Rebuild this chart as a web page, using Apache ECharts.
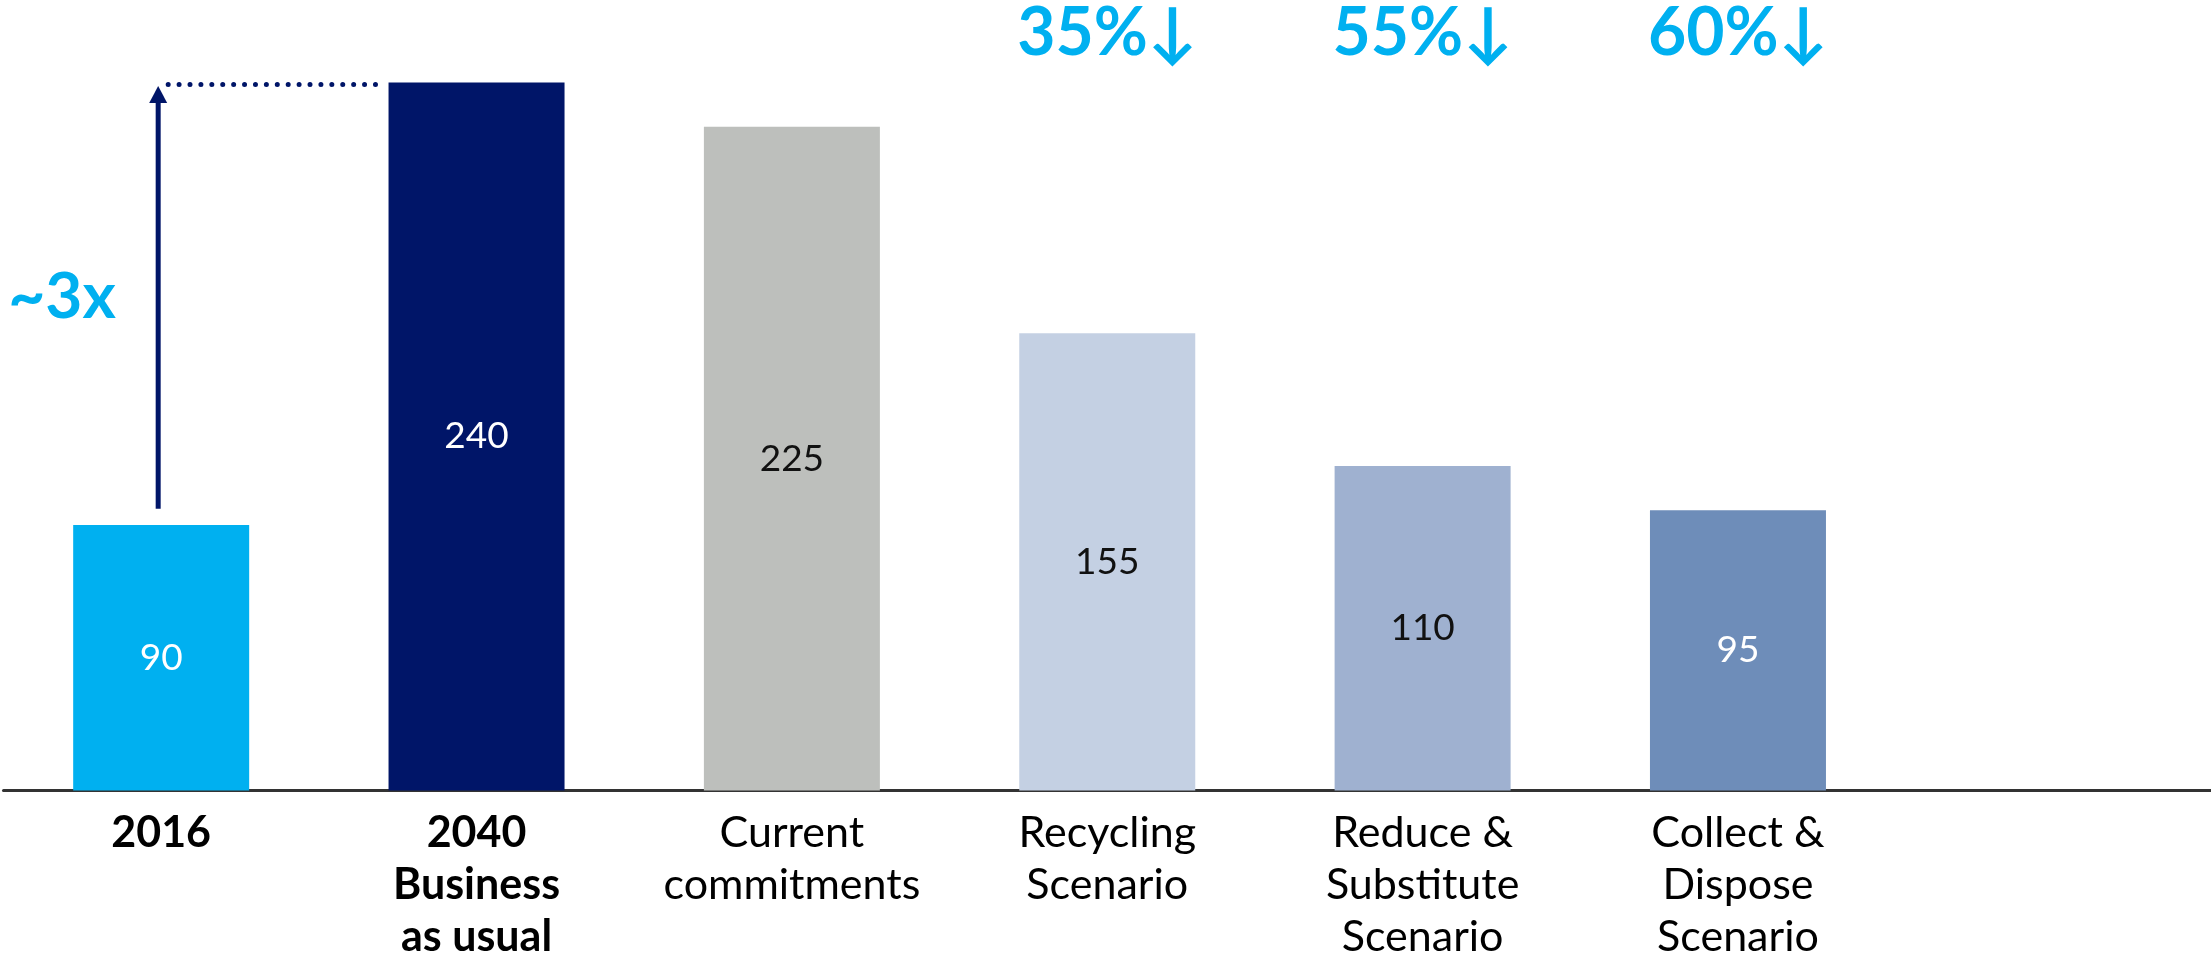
<!DOCTYPE html>
<html>
<head>
<meta charset="utf-8">
<script src="https://cdn.jsdelivr.net/npm/echarts@6/dist/echarts.min.js"></script>
<style>
  html, body { margin: 0; padding: 0; background: #fff; }
  #chart { width: 2211px; height: 956px; }
</style>
</head>
<body>
<div id="chart"></div>
<script>
// categories (last one is an empty slot, the axis runs on past the bars)
const categories = [
  '2016',
  '2040\nBusiness\nas usual',
  'Current\ncommitments',
  'Recycling\nScenario',
  'Reduce &\nSubstitute\nScenario',
  'Collect &\nDispose\nScenario',
  ''
]
const values = [90, 240, 225, 155, 110, 95]
const reductions = ['', '', '', '35%↓', '55%↓', '60%↓']
const growthLabel = '~3x'

const barColors = ['#00B0F0', '#001568', '#BDBFBC', '#C4D0E3', '#9FB1D0', '#6E8DB9']
const labelColors = ['#fff', '#fff', '#111', '#111', '#111', '#fff']
const boldCount = 2
const font = 'Lato, "Open Sans", sans-serif'

const chart = echarts.init(document.getElementById('chart'))

const option = {
  backgroundColor: '#fff',
  animation: false,
  grid: { left: 3.5, right: 0, top: 23.5, bottom: 165.5, containLabel: false, outerBoundsMode: 'none' },
  xAxis: {
    type: 'category',
    data: categories,
    axisTick: { show: false },
    axisLine: { lineStyle: { color: '#333', width: 3 } },
    axisLabel: {
      interval: 0,
      margin: 17,
      formatter: (val, idx) => {
        const key = idx < boldCount ? 'b' : 'r'
        return val.split('\n').map((l) => `{${key}|${l}}`).join('\n')
      },
      rich: {
        b: { fontFamily: font, fontSize: 43, fontWeight: 'bold', color: '#000', lineHeight: 52 },
        r: { fontFamily: font, fontSize: 43, color: '#000', lineHeight: 52 },
      },
    },
  },
  yAxis: {
    type: 'value',
    min: 0,
    max: 260,
    show: false,
    splitLine: { show: false },
  },
  series: [{
    type: 'bar',
    barWidth: 176,
    data: values.map((v, i) => ({
      value: v,
      itemStyle: { color: barColors[i] },
      label: { color: labelColors[i] },
    })),
    label: {
      show: true,
      position: 'inside',
      fontFamily: font,
      fontSize: 37,
    },
  }],
}

chart.setOption(option)

// annotations placed through the chart's own scales
const px = (i, v) => chart.convertToPixel({ seriesIndex: 0 }, [i, v])
const navy = '#001568'
const cyan = '#00B0F0'

const arrowBottom = px(0, values[0] + 5.5)
const arrowTop = px(0, values[1] - 1.2)
const ax = arrowBottom[0] - 3
const bar2Left = px(1, values[1])[0] - 88

const graphics = [
  {
    type: 'line',
    shape: { x1: ax, y1: arrowBottom[1], x2: ax, y2: arrowTop[1] + 16 },
    style: { stroke: navy, lineWidth: 5 },
  },
  {
    type: 'polygon',
    shape: { points: [[ax, arrowTop[1]], [ax - 9, arrowTop[1] + 17], [ax + 9, arrowTop[1] + 17]] },
    style: { fill: navy },
  },
  {
    type: 'line',
    shape: { x1: ax + 10, y1: arrowTop[1] - 1.5, x2: bar2Left - 10, y2: arrowTop[1] - 1.5 },
    style: { stroke: navy, lineWidth: 5, lineDash: [0.01, 10.9], lineCap: 'round' },
  },
  {
    type: 'text',
    style: {
      x: 62, y: (arrowBottom[1] + arrowTop[1]) / 2,
      text: growthLabel,
      fill: cyan,
      font: `bold 64px ${font}`,
      align: 'center',
      verticalAlign: 'middle',
    },
  },
]

reductions.forEach((t, i) => {
  if (!t) return
  graphics.push({
    type: 'text',
    style: {
      x: px(i, 0)[0], y: 34,
      text: t,
      fill: cyan,
      font: `bold 66px ${font}`,
      align: 'center',
      verticalAlign: 'middle',
    },
  })
})

chart.setOption({ graphic: graphics })
</script>
</body>
</html>
